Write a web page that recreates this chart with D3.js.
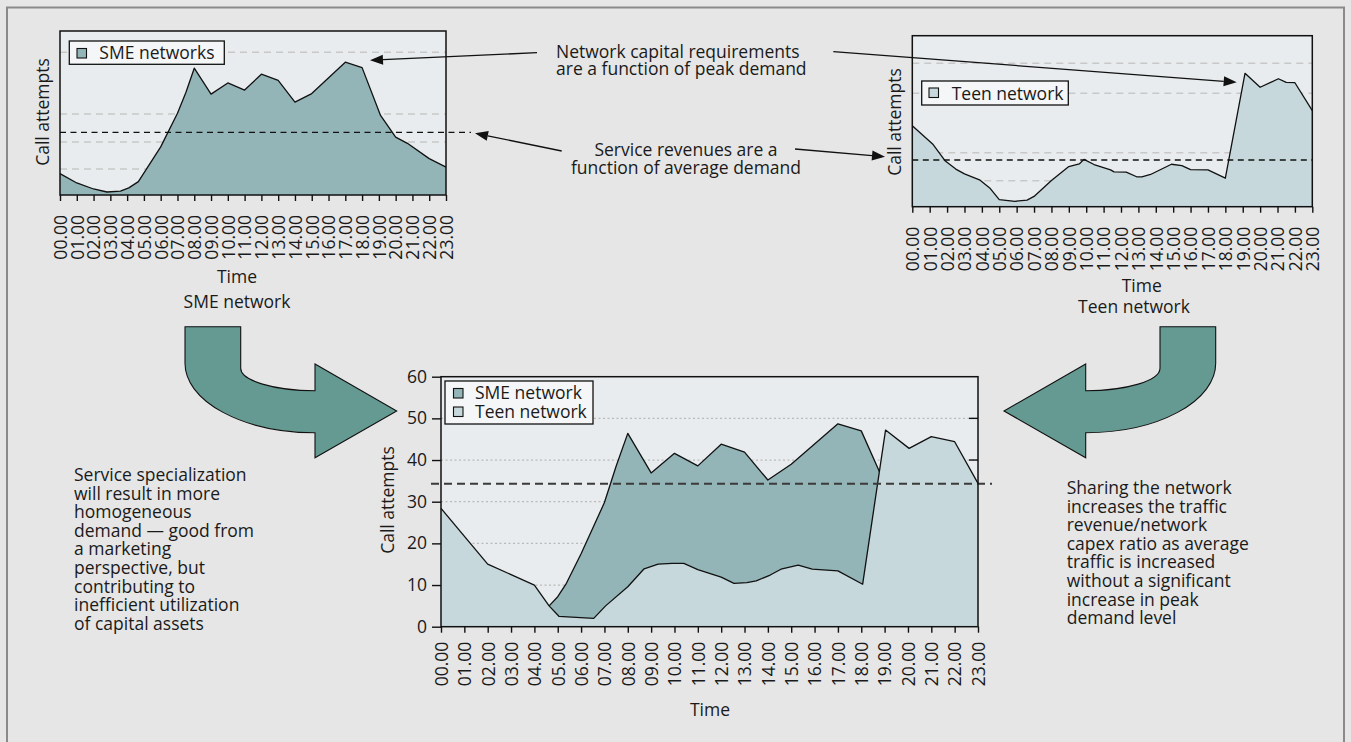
<!DOCTYPE html>
<html>
<head>
<meta charset="utf-8">
<script src="https://cdn.jsdelivr.net/npm/d3@7"></script>
<style>
  html, body { margin: 0; padding: 0; background: #e6e6e6; }
  svg text { font-family: "Open Sans", sans-serif; fill: #1a1a1a; }
</style>
</head>
<body>
<svg id="fig" width="1351" height="742"></svg>
<script>
// ---- data -------------------------------------------------------------
const hourLabels = ["00.00","01.00","02.00","03.00","04.00","05.00","06.00","07.00",
  "08.00","09.00","10.00","11.00","12.00","13.00","14.00","15.00","16.00","17.00",
  "18.00","19.00","20.00","21.00","22.00","23.00"];

// SME network on its own (relative call attempts over the day)
const smeHours = [0, 1, 2, 2.8, 3.6, 4.1, 4.67, 6, 7, 7.5, 8, 9, 10, 11, 12, 13, 14, 15, 17, 18, 19.1, 20, 20.7, 22, 23];
const smeCalls = [7.8, 4.4, 2.2, 1.1, 1.4, 2.6, 4.9, 17.6, 29.9, 37.5, 46.4, 36.9, 41.0, 38.4, 44.2, 41.9, 34.0, 37.1, 48.6, 46.6, 29.1, 21.2, 18.9, 13.3, 10.2];
const smeAverage = 22.9;
const smeGridLevels = [9.5, 19.4, 29.6, 52.2];

// Teen network on its own
const teenHours = [0, 1.2, 1.9, 2.5, 3, 3.9, 4.45, 5, 5.9, 6.6, 7, 8, 9, 9.6, 9.87, 10.45, 11.4, 11.6, 12.3, 12.9, 13.2, 13.7, 14.9, 15.5, 16, 17, 18, 19.13, 20, 21.05, 21.5, 22, 23];
const teenCalls = [28.4, 21.8, 16.0, 13.2, 11.5, 9.3, 6.6, 2.5, 1.9, 2.3, 3.6, 9.2, 14.1, 15.0, 16.6, 14.8, 12.9, 12.2, 12.1, 10.5, 10.5, 11.3, 14.9, 14.4, 13.0, 12.9, 10.0, 46.8, 41.9, 44.9, 43.6, 43.5, 33.7];
const teenAverage = 16.4;
const teenGridLevels = [9.1, 18.9, 39.8, 50.3];

// Shared network: both customer groups on one network
const sharedTicks = [0, 10, 20, 30, 40, 50, 60];
const sharedSmeHours = [4.63, 5, 5.35, 6, 7, 7.5, 8, 9, 10, 11, 12, 13, 14, 15, 17, 18, 18.78];
const sharedSmeCalls = [5.0, 7.2, 10.2, 17.5, 29.8, 38.5, 46.4, 36.9, 41.6, 38.6, 43.8, 41.9, 35.2, 39.0, 48.7, 47.0, 37.2];
const sharedTeenHours = [0, 2, 4, 4.63, 5.05, 6.54, 7.05, 8, 8.7, 9.3, 9.9, 10.4, 11, 12, 12.55, 13.1, 13.5, 14.1, 14.56, 15.3, 15.9, 17, 18.06, 19.04, 20.05, 21, 22, 23];
const sharedTeenCalls = [28.4, 15.0, 10.0, 5.0, 2.5, 2.0, 5.0, 9.6, 13.9, 15.0, 15.2, 15.2, 13.7, 11.9, 10.4, 10.6, 11.0, 12.4, 13.8, 14.8, 13.8, 13.4, 10.2, 47.2, 42.8, 45.6, 44.4, 34.4];
const sharedAverage = 34.3;

const notesLeft = ["Service specialization", "will result in more", "homogeneous",
  "demand \u2014 good from", "a marketing", "perspective, but", "contributing to",
  "inefficient utilization", "of capital assets"];
const notesRight = ["Sharing the network", "increases the traffic", "revenue/network",
  "capex ratio as average", "traffic is increased", "without a significant",
  "increase in peak", "demand level"];

// ---- styles -----------------------------------------------------------
const COL = {
  plotBg: "#e8ecee", sme: "#94b5b7", teen: "#c6d8dc", ink: "#111111",
  grid: "#c8c8c8", legendBg: "#f5f6f7", bigArrow: "#659a93"
};
const FS = 17.5;

const svg = d3.select("#fig");
const zip = (xs, ys) => xs.map((h, i) => [h, ys[i]]);

// outer panel border
svg.append("rect").attr("x", 7).attr("y", 7.5).attr("width", 1337).attr("height", 760)
  .attr("fill", "none").attr("stroke", "#8a8a8a").attr("stroke-width", 2);

function hourAxis(g, x, yBase, gap) {
  const ax = g.append("g").attr("transform", `translate(0,${yBase})`)
    .call(d3.axisBottom(x).tickValues(d3.range(24)).tickFormat(i => hourLabels[i])
      .tickSize(6).tickSizeOuter(0));
  ax.select(".domain").remove();
  ax.selectAll(".tick line").attr("stroke", COL.ink).attr("stroke-width", 1.4);
  ax.selectAll(".tick text")
    .attr("font-size", FS).attr("font-family", "Open Sans, sans-serif").attr("fill", "#1a1a1a")
    .attr("transform", "rotate(-90)").attr("text-anchor", "end")
    .attr("x", -gap).attr("y", 0).attr("dy", "0.36em");
  return ax;
}

function vLabel(text, cx, cy) {
  svg.append("text").attr("transform", `translate(${cx},${cy}) rotate(-90)`)
    .attr("text-anchor", "middle").attr("dy", "0.35em").attr("font-size", FS).text(text);
}

function legend(x, y, w, h, rows) {
  const g = svg.append("g");
  g.append("rect").attr("x", x).attr("y", y).attr("width", w).attr("height", h)
    .attr("fill", COL.legendBg).attr("stroke", COL.ink).attr("stroke-width", 1.3);
  rows.forEach(r => {
    g.append("rect").attr("x", r.sx).attr("y", r.sy).attr("width", 9.5).attr("height", 9.5)
      .attr("fill", r.color).attr("stroke", COL.ink).attr("stroke-width", 1.1);
    g.append("text").attr("x", r.tx).attr("y", r.ty).attr("font-size", FS).text(r.label);
  });
}

function arrow(x1, y1, x2, y2) {
  const a = Math.atan2(y2 - y1, x2 - x1), L = 13, W = 5;
  const bx = x2 - L * Math.cos(a), by = y2 - L * Math.sin(a);
  svg.append("line").attr("x1", x1).attr("y1", y1).attr("x2", bx).attr("y2", by)
    .attr("stroke", COL.ink).attr("stroke-width", 1.3);
  svg.append("path").attr("fill", COL.ink)
    .attr("d", `M${x2},${y2}L${bx + W * Math.sin(a)},${by - W * Math.cos(a)}L${bx - W * Math.sin(a)},${by + W * Math.cos(a)}Z`);
}

// single-network panel (no value axis)
function singlePanel(box, series, color, avg, gridLevels, avgEnd) {
  const x = d3.scaleLinear().domain([0, 23]).range([box.left, box.right]);
  const y = d3.scaleLinear().domain([0, 60]).range([box.bottom, box.top]);
  const g = svg.append("g");
  g.append("rect").attr("x", box.left).attr("y", box.top)
    .attr("width", box.right - box.left).attr("height", box.bottom - box.top).attr("fill", COL.plotBg);
  g.selectAll("line.grid").data(gridLevels).join("line").attr("class", "grid")
    .attr("x1", box.left).attr("x2", box.right).attr("y1", d => y(d)).attr("y2", d => y(d))
    .attr("stroke", COL.grid).attr("stroke-width", 1.5).attr("stroke-dasharray", "7,5");
  g.append("path").datum(series).attr("fill", color)
    .attr("d", d3.area().x(d => x(d[0])).y0(y(0)).y1(d => y(d[1])));
  g.append("path").datum(series).attr("fill", "none").attr("stroke", COL.ink).attr("stroke-width", 1.3)
    .attr("stroke-linejoin", "round").attr("d", d3.line().x(d => x(d[0])).y(d => y(d[1])));
  g.append("line").attr("x1", box.left).attr("x2", avgEnd).attr("y1", y(avg)).attr("y2", y(avg))
    .attr("stroke", COL.ink).attr("stroke-width", 1.4).attr("stroke-dasharray", "6,4.5");
  g.append("rect").attr("x", box.left).attr("y", box.top)
    .attr("width", box.right - box.left).attr("height", box.bottom - box.top)
    .attr("fill", "none").attr("stroke", COL.ink).attr("stroke-width", 1.5);
  hourAxis(g, x, box.bottom, 20);
  return { x, y };
}

// ---- SME network (top left) -----------------------------------------
const tl = { left: 60, right: 446, top: 31, bottom: 195 };
singlePanel(tl, zip(smeHours, smeCalls), COL.sme, smeAverage, smeGridLevels, 471);
legend(69.3, 41, 155, 23.3, [{ sx: 77, sy: 48.5, tx: 99.3, ty: 59.3, color: COL.sme, label: "SME networks" }]);
vLabel("Call attempts", 42.7, 112);
svg.append("text").attr("x", 237).attr("y", 282.7).attr("text-anchor", "middle").attr("font-size", FS).text("Time");
svg.append("text").attr("x", 237).attr("y", 308.3).attr("text-anchor", "middle").attr("font-size", FS).text("SME network");

// ---- Teen network (top right) ---------------------------------------
const tr = { left: 912.3, right: 1312.3, top: 35.7, bottom: 206.7 };
singlePanel(tr, zip(teenHours, teenCalls), COL.teen, teenAverage, teenGridLevels, 1312.3);
legend(921.7, 81, 146.6, 24, [{ sx: 929, sy: 88, tx: 951.7, ty: 100, color: COL.teen, label: "Teen network" }]);
vLabel("Call attempts", 895, 122);
svg.append("text").attr("x", 1141.7).attr("y", 291.7).attr("text-anchor", "middle").attr("font-size", FS).text("Time");
svg.append("text").attr("x", 1134).attr("y", 312.7).attr("text-anchor", "middle").attr("font-size", FS).text("Teen network");

// ---- shared network (bottom) ----------------------------------------
const bm = { left: 441, right: 978, top: 376.7, bottom: 626.7 };
const xB = d3.scaleLinear().domain([0, 23]).range([bm.left, bm.right]);
const yB = d3.scaleLinear().domain([0, 60]).range([bm.bottom, bm.top]);
const gB = svg.append("g");
gB.append("rect").attr("x", bm.left).attr("y", bm.top)
  .attr("width", bm.right - bm.left).attr("height", bm.bottom - bm.top).attr("fill", COL.plotBg);
const innerLevels = sharedTicks.filter(v => v > 0 && v < 60);
gB.selectAll("line.grid").data(innerLevels).join("line").attr("class", "grid")
  .attr("x1", bm.left).attr("x2", bm.right).attr("y1", d => yB(d)).attr("y2", d => yB(d))
  .attr("stroke", "#b9b9b9").attr("stroke-width", 1.3).attr("stroke-dasharray", "2,2.5");
gB.selectAll("line.rtick").data(innerLevels).join("line").attr("class", "rtick")
  .attr("x1", bm.right - 9).attr("x2", bm.right).attr("y1", d => yB(d)).attr("y2", d => yB(d))
  .attr("stroke", COL.ink).attr("stroke-width", 1.4);

const areaB = d3.area().x(d => xB(d[0])).y0(yB(0)).y1(d => yB(d[1]));
const lineB = d3.line().x(d => xB(d[0])).y(d => yB(d[1]));
const smeShared = zip(sharedSmeHours, sharedSmeCalls);
const teenShared = zip(sharedTeenHours, sharedTeenCalls);
gB.append("path").datum(smeShared).attr("fill", COL.sme).attr("d", areaB);
gB.append("path").datum(smeShared).attr("fill", "none").attr("stroke", COL.ink)
  .attr("stroke-width", 1.3).attr("stroke-linejoin", "round").attr("d", lineB);
gB.append("path").datum(teenShared).attr("fill", COL.teen).attr("d", areaB);
gB.append("path").datum(teenShared).attr("fill", "none").attr("stroke", COL.ink)
  .attr("stroke-width", 1.3).attr("stroke-linejoin", "round").attr("d", lineB);

gB.append("line").attr("x1", 431).attr("x2", 992).attr("y1", yB(sharedAverage)).attr("y2", yB(sharedAverage))
  .attr("stroke", "#3a3a3a").attr("stroke-width", 2).attr("stroke-dasharray", "8,5");
gB.append("rect").attr("x", bm.left).attr("y", bm.top)
  .attr("width", bm.right - bm.left).attr("height", bm.bottom - bm.top)
  .attr("fill", "none").attr("stroke", COL.ink).attr("stroke-width", 1.5);

const yAx = gB.append("g").attr("transform", `translate(${bm.left},0)`)
  .call(d3.axisLeft(yB).tickValues(sharedTicks).tickFormat(d3.format("d")).tickSize(9).tickPadding(5).tickSizeOuter(0));
yAx.select(".domain").remove();
yAx.selectAll(".tick line").attr("stroke", COL.ink).attr("stroke-width", 1.4);
yAx.selectAll(".tick text").attr("font-size", FS).attr("font-family", "Open Sans, sans-serif").attr("fill", "#1a1a1a");
hourAxis(gB, xB, bm.bottom, 15);

legend(445, 381, 148, 43, [
  { sx: 453.5, sy: 388.5, tx: 475, ty: 399.3, color: COL.sme, label: "SME network" },
  { sx: 453.5, sy: 407, tx: 475, ty: 417.7, color: COL.teen, label: "Teen network" }
]);
vLabel("Call attempts", 388, 500);
svg.append("text").attr("x", 710).attr("y", 716).attr("text-anchor", "middle").attr("font-size", FS).text("Time");

// ---- curved transition arrows ---------------------------------------
const bend = "M185,326.7H240.7V368.3A74.3,22.4 0 0 0 315,390.7V364L396.7,411L315,457.7V432.7A130,69.4 0 0 1 185,363.3Z";
svg.append("path").attr("d", bend).attr("fill", COL.bigArrow).attr("stroke", COL.ink).attr("stroke-width", 1.1);
svg.append("path").attr("d", bend).attr("transform", "translate(1400.7,0) scale(-1,1)")
  .attr("fill", COL.bigArrow).attr("stroke", COL.ink).attr("stroke-width", 1.1);

// ---- annotations ----------------------------------------------------
svg.append("text").attr("x", 556).attr("y", 58).attr("font-size", FS).text("Network capital requirements");
svg.append("text").attr("x", 556).attr("y", 75).attr("font-size", FS).text("are a function of peak demand");
svg.append("text").attr("x", 686).attr("y", 155.7).attr("text-anchor", "middle").attr("font-size", FS).text("Service revenues are a");
svg.append("text").attr("x", 686).attr("y", 174.3).attr("text-anchor", "middle").attr("font-size", FS).text("function of average demand");
arrow(537, 52.7, 370, 60.3);
arrow(833.3, 51.7, 1236.7, 82.3);
arrow(561.7, 151, 475, 133.3);
arrow(795, 149, 885, 156.7);

svg.append("g").selectAll("text").data(notesLeft).join("text")
  .attr("x", 74).attr("y", (d, i) => 481 + i * 18.6).attr("font-size", FS).text(d => d);
svg.append("g").selectAll("text").data(notesRight).join("text")
  .attr("x", 1066.7).attr("y", (d, i) => 494 + i * 18.6).attr("font-size", FS).text(d => d);
</script>
</body>
</html>
